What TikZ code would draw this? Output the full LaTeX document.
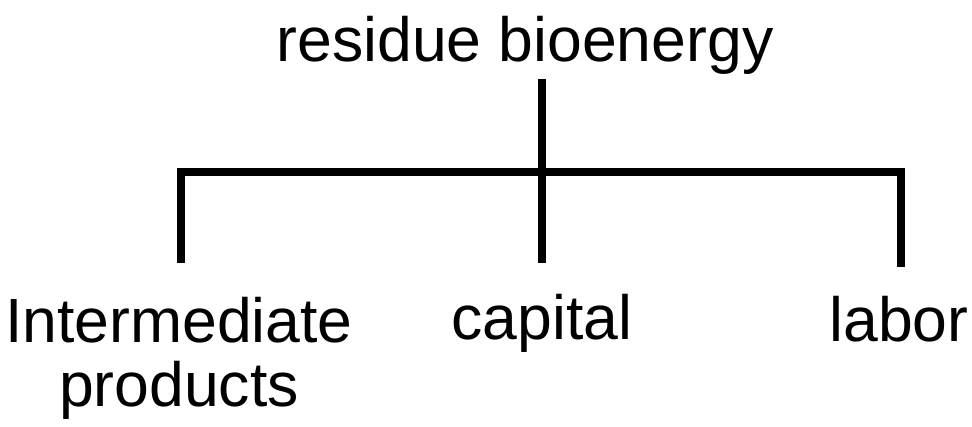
\documentclass[tikz,border=0pt]{standalone}
\usepackage{fontspec}
\setmainfont{Liberation Sans}
\begin{document}
\begin{tikzpicture}[x=1pt,y=-1pt,
  lbl/.style={inner sep=0pt, anchor=base, font=\fontsize{62.5}{64}\selectfont, align=center},
  tree/.style={line width=8pt, line join=miter}]
\useasboundingbox (0,0) rectangle (972,427);
\node[lbl] (top) at (525,62) {residue bioenergy};
\node[lbl] (inter) at (179,407) {Intermediate\\products};
\node[lbl] (cap) at (542,340) {capital};
\node[lbl] (lab) at (899,342) {labor};
\coordinate (t0) at (542,79);
\coordinate (t1) at (542,263);
\coordinate (l0) at (181,263);
\coordinate (l1) at (181,172);
\coordinate (r1) at (901,172);
\coordinate (r0) at (901,267);
\draw[tree] (t0) -- (t1);
\draw[tree] (l0) -- (l1) -- (r1) -- (r0);
\end{tikzpicture}
\end{document}
